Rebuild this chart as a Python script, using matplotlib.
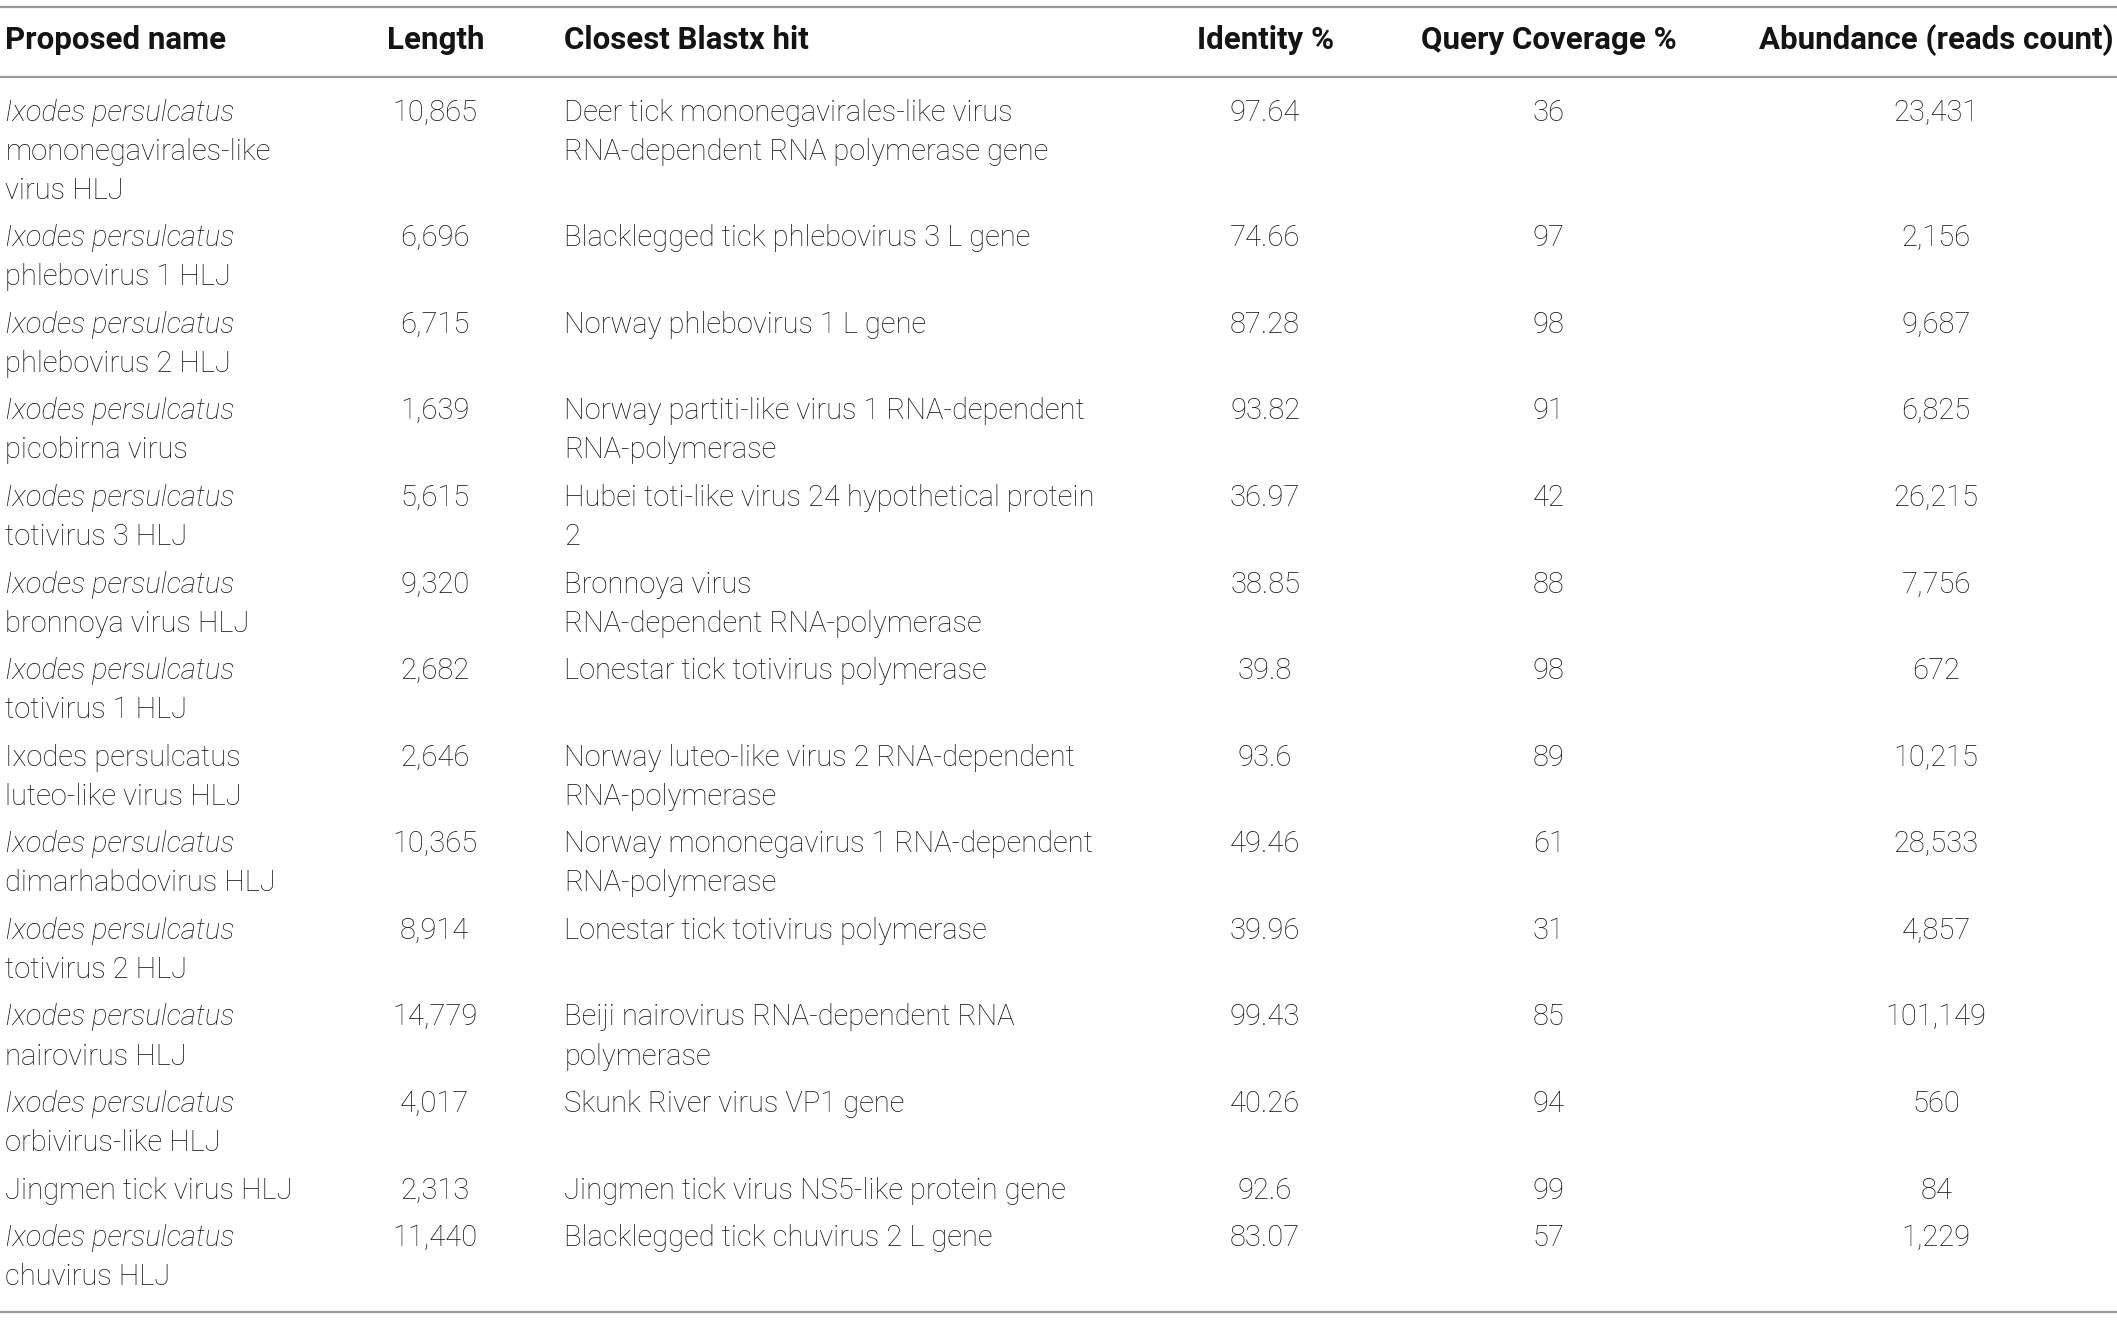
import matplotlib
matplotlib.use("Agg")
import matplotlib.pyplot as plt

plt.rcParams['font.family'] = ['Roboto', 'DejaVu Sans']

headers = ["Proposed name", "Length", "Closest Blastx hit", "Identity %",
           "Query Coverage %", "Abundance (reads count)"]

name_first = ["Ixodes persulcatus"] * 12 + ["Jingmen tick virus HLJ", "Ixodes persulcatus"]
name_first_italic = [True] * 7 + [False] + [True] * 4 + [False, True]
name_rest = [
    ["mononegavirales-like", "virus HLJ"],
    ["phlebovirus 1 HLJ"],
    ["phlebovirus 2 HLJ"],
    ["picobirna virus"],
    ["totivirus 3 HLJ"],
    ["bronnoya virus HLJ"],
    ["totivirus 1 HLJ"],
    ["luteo-like virus HLJ"],
    ["dimarhabdovirus HLJ"],
    ["totivirus 2 HLJ"],
    ["nairovirus HLJ"],
    ["orbivirus-like HLJ"],
    [],
    ["chuvirus HLJ"],
]
lengths = ["10,865", "6,696", "6,715", "1,639", "5,615", "9,320", "2,682",
           "2,646", "10,365", "8,914", "14,779", "4,017", "2,313", "11,440"]
blastx_hits = [
    ["Deer tick mononegavirales-like virus", "RNA-dependent RNA polymerase gene"],
    ["Blacklegged tick phlebovirus 3 L gene"],
    ["Norway phlebovirus 1 L gene"],
    ["Norway partiti-like virus 1 RNA-dependent", "RNA-polymerase"],
    ["Hubei toti-like virus 24 hypothetical protein", "2"],
    ["Bronnoya virus", "RNA-dependent RNA-polymerase"],
    ["Lonestar tick totivirus polymerase"],
    ["Norway luteo-like virus 2 RNA-dependent", "RNA-polymerase"],
    ["Norway mononegavirus 1 RNA-dependent", "RNA-polymerase"],
    ["Lonestar tick totivirus polymerase"],
    ["Beiji nairovirus RNA-dependent RNA", "polymerase"],
    ["Skunk River virus VP1 gene"],
    ["Jingmen tick virus NS5-like protein gene"],
    ["Blacklegged tick chuvirus 2 L gene"],
]
identity = ["97.64", "74.66", "87.28", "93.82", "36.97", "38.85", "39.8",
            "93.6", "49.46", "39.96", "99.43", "40.26", "92.6", "83.07"]
coverage = ["36", "97", "98", "91", "42", "88", "98", "89", "61", "31",
            "85", "94", "99", "57"]
abundance = ["23,431", "2,156", "9,687", "6,825", "26,215", "7,756", "672",
             "10,215", "28,533", "4,857", "101,149", "560", "84", "1,229"]

W, H = 1568, 980
fig = plt.figure(figsize=(21.17, 13.21), dpi=100)
ax = fig.add_axes([0, 0, 1, 1])
ax.set_xlim(0, W)
ax.set_ylim(H, 0)
ax.axis('off')

txt_color = '#141414'
line_color = '#9a9a9a'
fs = 21
hfs = 22.5
body_weight = 'light'

# column anchors
col_x = [4, 322, 418, 937, 1147, 1434]

# rules
for yy in (5, 57, 973):
    ax.plot([0, W], [yy, yy], color=line_color, lw=1.6, solid_capstyle='butt')

# header
hx = [4, 287, 418, 937, 1147, 1434]
hha = ['left', 'left', 'left', 'center', 'center', 'center']
for t, x, ha in zip(headers, hx, hha):
    ax.text(x, 30, t, ha=ha, va='center', fontsize=hfs, fontweight='bold', color=txt_color)

line_h = 29.0
gap = 6.23
y = 83.5
for i in range(len(lengths)):
    name_lines = [(name_first[i], name_first_italic[i])] + [(s, False) for s in name_rest[i]]
    nlines = max(len(name_lines), len(blastx_hits[i]))
    for k, (s, it) in enumerate(name_lines):
        ax.text(col_x[0], y + k * line_h, s, ha='left', va='center', fontsize=fs,
                fontstyle='italic' if it else 'normal', fontweight=body_weight, color=txt_color)
    ax.text(col_x[1], y, lengths[i], ha='center', va='center', fontsize=fs,
            fontweight=body_weight, color=txt_color)
    for k, s in enumerate(blastx_hits[i]):
        ax.text(col_x[2], y + k * line_h, s, ha='left', va='center', fontsize=fs,
                fontweight=body_weight, color=txt_color)
    for j, vals in ((3, identity), (4, coverage), (5, abundance)):
        ax.text(col_x[j], y, vals[i], ha='center', va='center', fontsize=fs,
                fontweight=body_weight, color=txt_color)
    y += nlines * line_h + gap

fig.savefig("out.png", dpi=100, facecolor='white')
